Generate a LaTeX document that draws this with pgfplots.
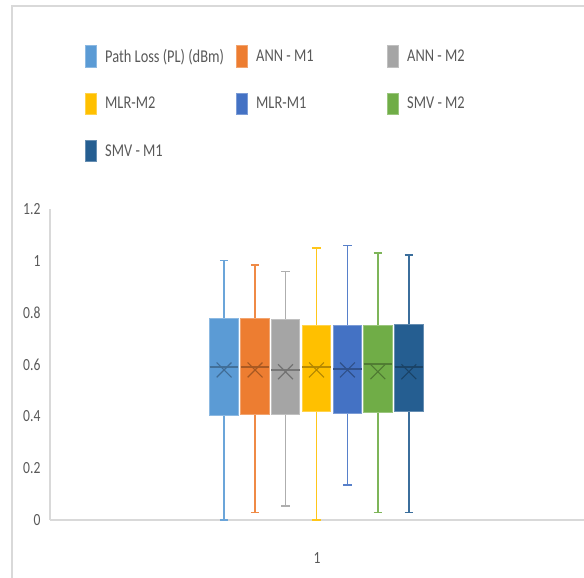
\documentclass[border=0pt]{standalone}
\usepackage{fontspec}
\setmainfont{Carlito}[FakeStretch=0.8]
\usepackage{pgfplots}
\pgfplotsset{compat=1.18}
\usepgfplotslibrary{statistics}
\definecolor{cPL}{HTML}{5B9BD5}
\definecolor{cA1}{HTML}{ED7D31}
\definecolor{cA2}{HTML}{A5A5A5}
\definecolor{cL2}{HTML}{FFC000}
\definecolor{cL1}{HTML}{4472C4}
\definecolor{cS2}{HTML}{70AD47}
\definecolor{cS1}{HTML}{255E91}
\definecolor{txt}{HTML}{595959}
\definecolor{axl}{HTML}{D9D9D9}
\newcommand\lent[1]{\makebox[123pt][l]{#1}}
\pgfplotsset{
  mybox/.style={draw=#1, line width=1.2pt,
    boxplot/draw direction=y,
    boxplot/every box/.style={fill=#1, draw=#1!70!white, line width=1pt},
    boxplot/every median/.style={draw=#1!72!black, line width=2pt},
    boxplot/every whisker/.style={draw=#1!90!white, line width=1.3pt},
  },
  mymean/.style={only marks, mark=x, mark size=10.5pt, mark options={draw=#1!70!black, line width=1.1pt}},
  leg/.style={fill=#1, draw=#1!70!white, line width=0.8pt},
}
\begin{document}
\begin{tikzpicture}[x=1pt,y=1pt]
\useasboundingbox (0,0) rectangle (584,578);
\begin{scope}
\clip (0,0) rectangle (584,578);
\draw[color=axl, line width=1.2pt] (12,-5) -- (12,572) -- (600,572);
\end{scope}
\begin{axis}[
  at={(50pt,58pt)}, anchor=south west,
  scale only axis, width=534pt, height=311pt,
  xmin=0.5, xmax=1.5, ymin=0, ymax=1.2,
  axis x line*=bottom, axis y line*=left,
  axis line style={draw=axl, line width=1.2pt, -},
  major tick length=0pt,
  xtick={1}, xticklabels={1},
  ytick={0,0.2,0.4,0.6,0.8,1,1.2},
  yticklabels={0,0.2,0.4,0.6,0.8,1,1.2},
  /pgf/number format/assume math mode=true,
  ticklabel style={font=\fontsize{17}{17}\selectfont, text=txt},
  xticklabel style={yshift=-29pt},
  yticklabel style={xshift=-6pt},
  clip=false,
  legend columns=3,
  legend image code/.code={\draw[#1] (0.4pt,-10.6pt) rectangle (11.6pt,10.6pt);},
  legend style={at={(0.0655,1.527)}, anchor=north west, draw=none, fill=none,
    inner sep=0pt, row sep=25.5pt, column sep=0pt,
    font=\fontsize{18}{18}\selectfont, text=txt,
    nodes={inner xsep=8pt, inner ysep=2pt}},
]
\addlegendimage{leg=cPL}\addlegendentry{\lent{Path Loss (PL) (dBm)}}
\addlegendimage{leg=cA1}\addlegendentry{\lent{ANN - M1}}
\addlegendimage{leg=cA2}\addlegendentry{\lent{ANN - M2}}
\addlegendimage{leg=cL2}\addlegendentry{\lent{MLR-M2}}
\addlegendimage{leg=cL1}\addlegendentry{\lent{MLR-M1}}
\addlegendimage{leg=cS2}\addlegendentry{\lent{SMV - M2}}
\addlegendimage{leg=cS1}\addlegendentry{\lent{SMV - M1}}
\pgfplotsset{boxplot/box extend=0.053, boxplot/whisker extend=0.016}
\addplot[forget plot, mybox=cPL, boxplot prepared={draw position=0.826, lower whisker=0.0, lower quartile=0.403, median=0.592, upper quartile=0.778, upper whisker=1.0}] coordinates {};
\addplot[forget plot, mybox=cA1, boxplot prepared={draw position=0.884, lower whisker=0.028, lower quartile=0.408, median=0.592, upper quartile=0.778, upper whisker=0.984}] coordinates {};
\addplot[forget plot, mybox=cA2, boxplot prepared={draw position=0.941, lower whisker=0.054, lower quartile=0.408, median=0.578, upper quartile=0.772, upper whisker=0.958}] coordinates {};
\addplot[forget plot, mybox=cL2, boxplot prepared={draw position=0.999, lower whisker=0.0, lower quartile=0.418, median=0.592, upper quartile=0.750, upper whisker=1.05}] coordinates {};
\addplot[forget plot, mybox=cL1, boxplot prepared={draw position=1.057, lower whisker=0.135, lower quartile=0.412, median=0.582, upper quartile=0.750, upper whisker=1.06}] coordinates {};
\addplot[forget plot, mybox=cS2, boxplot prepared={draw position=1.114, lower whisker=0.028, lower quartile=0.415, median=0.600, upper quartile=0.752, upper whisker=1.03}] coordinates {};
\addplot[forget plot, mybox=cS1, boxplot prepared={draw position=1.172, lower whisker=0.028, lower quartile=0.420, median=0.592, upper quartile=0.753, upper whisker=1.022}] coordinates {};
% means
\addplot[forget plot, mymean=cPL] coordinates {(0.826,0.579)};
\addplot[forget plot, mymean=cA1] coordinates {(0.884,0.579)};
\addplot[forget plot, mymean=cA2] coordinates {(0.941,0.572)};
\addplot[forget plot, mymean=cL2] coordinates {(0.999,0.579)};
\addplot[forget plot, mymean=cL1] coordinates {(1.057,0.579)};
\addplot[forget plot, mymean=cS2] coordinates {(1.114,0.572)};
\addplot[forget plot, mymean=cS1] coordinates {(1.172,0.572)};
\end{axis}
\end{tikzpicture}
\end{document}
